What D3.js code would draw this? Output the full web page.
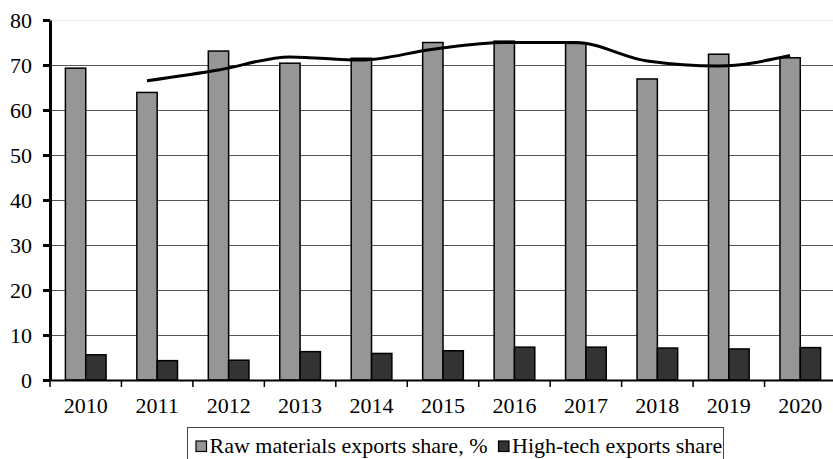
<!DOCTYPE html>
<html>
<head>
<meta charset="utf-8">
<script src="https://cdn.jsdelivr.net/npm/d3@7"></script>
<style>
  html, body { margin: 0; padding: 0; background: #fff; }
  svg { display: block; }
</style>
</head>
<body>
<svg id="chart" width="833" height="459"></svg>
<script>
// Export structure by year
const years = ["2010","2011","2012","2013","2014","2015","2016","2017","2018","2019","2020"];
const rawShare = [69.3, 63.9, 73.1, 70.4, 71.5, 75.0, 75.3, 74.8, 66.9, 72.4, 71.6];
const techShare = [5.6, 4.3, 4.4, 6.3, 5.9, 6.5, 7.3, 7.3, 7.1, 6.9, 7.2];
// Smoothed trend of the raw materials share (from 2011)
const trendYears = ["2011","2012","2013","2014","2015","2016","2017","2018","2019","2020"];
const trendValues = [66.5, 68.9, 71.8, 71.1, 73.5, 75.0, 75.0, 70.9, 69.8, 72.1];
const yTicks = [0, 10, 20, 30, 40, 50, 60, 70, 80];
const seriesNames = ["Raw materials exports share, %", "High-tech exports share"];
const seriesKeys = ["raw", "tech"];
const seriesColors = ["#969696", "#333333"];

const svg = d3.select("#chart");
const plotLeft = 50, plotRight = 836, plotTop = 20, plotBottom = 380;
const serif = '"Liberation Serif"';
const fontSize = "22px";

const x = d3.scaleBand().domain(years).range([plotLeft, plotRight]).padding(0);
const inner = d3.scaleBand().domain(seriesKeys).range([15.4, x.bandwidth() - 15.4]).padding(0);
const y = d3.scaleLinear().domain([0, 80]).range([plotBottom, plotTop]);
const color = d3.scaleOrdinal().domain(seriesKeys).range(seriesColors);

// Horizontal gridlines
svg.append("g").selectAll("line")
  .data(yTicks.filter(d => d > 0))
  .join("line")
  .attr("x1", plotLeft).attr("x2", 833)
  .attr("y1", d => Math.round(y(d)) + 0.5).attr("y2", d => Math.round(y(d)) + 0.5)
  .attr("stroke", d => d === 80 ? "#ececec" : "#555")
  .attr("stroke-width", 1);

// Bars
const rows = years.map((yr, i) => ({ year: yr, raw: rawShare[i], tech: techShare[i] }));
const groups = svg.append("g").selectAll("g")
  .data(rows)
  .join("g")
  .attr("transform", d => `translate(${x(d.year)},0)`);
groups.selectAll("rect")
  .data(d => seriesKeys.map(k => ({ key: k, value: d[k] })))
  .join("rect")
  .attr("x", d => inner(d.key))
  .attr("width", inner.bandwidth())
  .attr("y", d => y(d.value))
  .attr("height", d => y(0) - y(d.value))
  .attr("fill", d => color(d.key))
  .attr("stroke", "#000")
  .attr("stroke-width", 1.5);

// Trend line through the raw materials bars
const trend = trendYears.map((yr, i) => ({ year: yr, value: trendValues[i] }));
const line = d3.line()
  .x(d => x(d.year) + inner("raw") + inner.bandwidth() / 2)
  .y(d => y(d.value))
  .curve(d3.curveMonotoneX);
svg.append("path")
  .datum(trend)
  .attr("d", line)
  .attr("fill", "none")
  .attr("stroke", "#000")
  .attr("stroke-width", 3)
  .attr("stroke-linejoin", "round");

// X axis
const xAxis = svg.append("g")
  .attr("transform", `translate(0,${plotBottom})`)
  .call(d3.axisBottom(x).tickSize(0).tickPadding(0));
xAxis.attr("font-family", null);
xAxis.select(".domain").attr("stroke", "#000").attr("stroke-width", 2);
xAxis.selectAll(".tick text")
  .attr("y", 33)
  .attr("dy", 0)
  .attr("fill", "#000")
  .style("font-size", fontSize)
  .style("font-family", serif);
// Category separators below the axis
svg.append("g").selectAll("line")
  .data(years)
  .join("line")
  .attr("x1", d => x(d)).attr("x2", d => x(d))
  .attr("y1", plotBottom).attr("y2", plotBottom + 7)
  .attr("stroke", "#000").attr("stroke-width", 1.5);

// Y axis
const yAxis = svg.append("g")
  .attr("transform", `translate(${plotLeft},0)`)
  .call(d3.axisLeft(y).tickValues(yTicks).tickSize(7).tickPadding(11).tickSizeOuter(0));
yAxis.attr("font-family", null);
yAxis.select(".domain").attr("stroke", "#000").attr("stroke-width", 3);
yAxis.selectAll(".tick line").attr("stroke", "#000").attr("stroke-width", 3);
yAxis.selectAll(".tick text")
  .attr("fill", "#000")
  .style("font-size", fontSize)
  .style("font-family", serif);

// Legend
const legend = svg.append("g");
legend.append("rect")
  .attr("x", 187.5).attr("y", 427.5)
  .attr("width", 536).attr("height", 40)
  .attr("fill", "#fff").attr("stroke", "#444").attr("stroke-width", 1);
const legendItems = [
  { key: "raw", label: seriesNames[0], x: 196 },
  { key: "tech", label: seriesNames[1], x: 498.5 }
];
const li = legend.selectAll("g.item")
  .data(legendItems)
  .join("g")
  .attr("class", "item")
  .attr("transform", d => `translate(${d.x},0)`);
li.append("rect")
  .attr("x", 0).attr("y", 441)
  .attr("width", 10.5).attr("height", 10.5)
  .attr("fill", d => color(d.key))
  .attr("stroke", "#000").attr("stroke-width", 1.2);
li.append("text")
  .attr("x", 13.5).attr("y", 453)
  .attr("fill", "#000")
  .style("font-size", fontSize)
  .style("font-family", serif)
  .text(d => d.label);
</script>
</body>
</html>
